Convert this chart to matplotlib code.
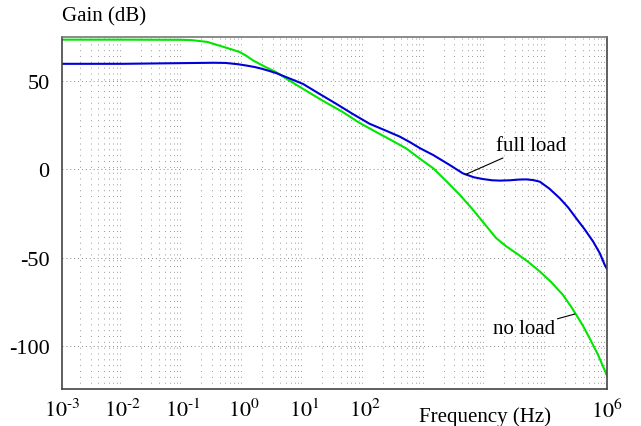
import numpy as np
import matplotlib.pyplot as plt
from matplotlib.ticker import FixedLocator, NullFormatter

plt.rcParams['font.family'] = ['Liberation Serif', 'DejaVu Serif']
plt.rcParams['mathtext.fontset'] = 'stix'
plt.rcParams['axes.unicode_minus'] = False

# decade exponents (log10 of frequency in Hz) and gain in dB
no_load_exp = [-3, -2, -1, -0.85, -0.6, -0.39, -0.2, -0.06, 0.05, 0.16, 0.35, 0.54,
               0.75, 0.98, 1.3, 1.64, 1.9, 2.19, 2.45, 2.69, 2.91, 3.13, 3.35, 3.57,
               3.75, 3.9, 4.05, 4.17, 4.33, 4.5, 4.7, 4.89, 5.08, 5.27, 5.4, 5.49,
               5.6, 5.71, 5.85, 6.0]
no_load_db = [73.5, 73.5, 73.4, 73.2, 72.2, 70.0, 68.0, 66.4, 64.2, 61.6, 58.2, 55.0,
              50.4, 45.6, 39.0, 32.4, 26.6, 21.1, 16.3, 11.7, 6.0, 0.6, -6.8, -14.5,
              -21.5, -27.7, -34.0, -39.0, -43.5, -47.5, -52.5, -57.9, -64.0, -71.1, -77.5,
              -82.4, -88.5, -95.6, -105.0, -117.0]

full_load_exp = [-3, -2, -1.5, -1, -0.5, -0.3, -0.1, 0.05, 0.18, 0.3, 0.42, 0.54, 0.75,
                 0.98, 1.25, 1.53, 1.8, 2.08, 2.33, 2.58, 2.75, 2.91, 3.13, 3.4, 3.62,
                 3.8, 3.95, 4.1, 4.23, 4.4, 4.55, 4.67, 4.78, 4.89, 5.05, 5.22, 5.36,
                 5.49, 5.63, 5.77, 5.88, 5.96, 6.0]
full_load_db = [59.8, 59.8, 60.0, 60.2, 60.4, 60.3, 59.6, 58.8, 58.0, 57.0, 55.8, 54.5,
                51.6, 48.4, 42.8, 37.1, 31.4, 25.8, 22.2, 18.5, 15.3, 12.0, 8.1, 2.5,
                -2.3, -4.5, -5.5, -6.2, -6.4, -6.2, -5.8, -5.7, -6.1, -7.0, -11.0, -16.4,
                -21.7, -27.7, -34.0, -40.9, -47.5, -54.0, -56.5]

x_tick_exp = [-3, -2, -1, 0, 1, 2, 6]
y_ticks = [50, 0, -50, -100]

fig = plt.figure(figsize=(6.41, 4.27), dpi=100)
ax = fig.add_axes([0.0967, 0.0867, 0.8503, 0.8243])

ax.plot(np.power(10.0, no_load_exp), no_load_db, color='#00e600', lw=1.5)
ax.plot(np.power(10.0, full_load_exp), full_load_db, color='#0000d8', lw=1.5)

ax.set_xscale('log')
ax.set_xlim(1e-3, 1e6)
ax.set_ylim(-124.5, 75)

ax.xaxis.set_major_locator(FixedLocator(np.power(10.0, x_tick_exp)))
ax.set_xticklabels(['$10^{\\text{%d}}$' % e for e in x_tick_exp])
minor = [m * 10.0 ** d for d in range(-3, 6) for m in range(2, 10)]
ax.xaxis.set_minor_locator(FixedLocator(minor))
ax.xaxis.set_minor_formatter(NullFormatter())
ax.set_yticks(y_ticks)
ax.set_yticklabels([str(v) for v in y_ticks])

ax.tick_params(which='both', length=0, labelsize=16)
ax.tick_params(axis='x', pad=7)
ax.tick_params(axis='y', pad=9)

ax.grid(True, axis='y', which='major', color='#888888', lw=0.7, linestyle=(0, (1, 3)))
ax.grid(True, axis='x', which='minor', color='#999999', lw=0.7, linestyle=(0, (1, 5)))
ax.set_axisbelow(True)

for side in ['left', 'bottom', 'right', 'top']:
    ax.spines[side].set_color('#444444')
    ax.spines[side].set_linewidth(1.2)
ax.spines['top'].set_color('#777777')

ax.text(0, 1.06, 'Gain (dB)', transform=ax.transAxes, ha='left', va='center', fontsize=15)
ax.text(0.776, -0.077, 'Frequency (Hz)', transform=ax.transAxes, ha='center', va='center',
        fontsize=15)

ax.annotate('full load', xy=(10 ** 3.66, -3.0), xytext=(10 ** 4.16, 13.4),
            fontsize=15, ha='left', va='center',
            arrowprops=dict(arrowstyle='-', color='black', lw=0.8, shrinkA=0, shrinkB=0))
ax.annotate('no load', xy=(10 ** 5.47, -82.0), xytext=(10 ** 5.135, -90.0),
            fontsize=15, ha='right', va='center',
            arrowprops=dict(arrowstyle='-', color='black', lw=0.8, shrinkA=0, shrinkB=0))

fig.savefig('out.png', dpi=100)
